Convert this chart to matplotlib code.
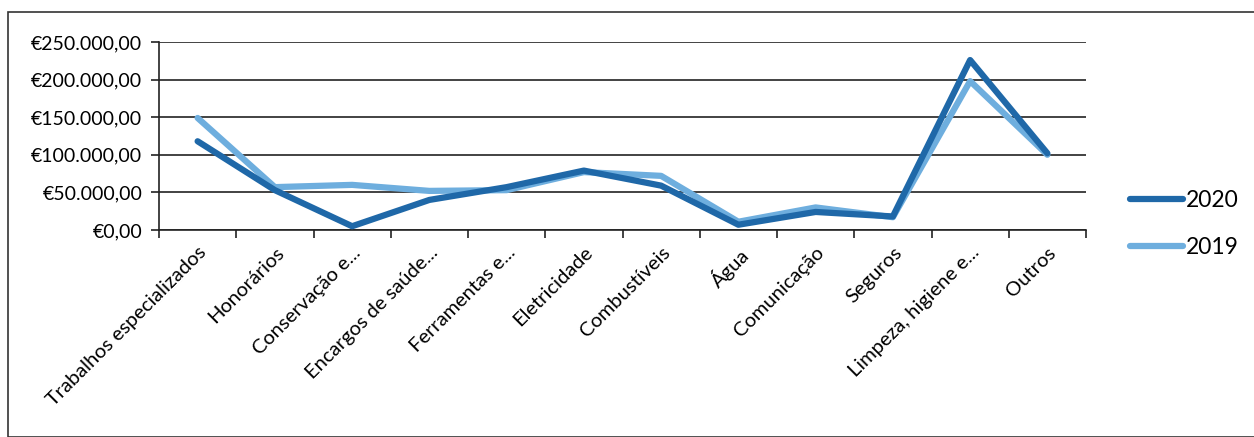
import matplotlib
matplotlib.use("Agg")
import numpy as np
from matplotlib import pyplot as plt
from matplotlib.patches import Rectangle
from matplotlib.ticker import FuncFormatter, FixedLocator

# Data
categories = ["Trabalhos especializados", "Honorários", "Conservação e...",
              "Encargos de saúde...", "Ferramentas e...", "Eletricidade",
              "Combustíveis", "Água", "Comunicação", "Seguros",
              "Limpeza, higiene e...", "Outros"]
v2020 = [118000, 53000, 5000, 40000, 57000, 79000, 59000, 7000, 24000, 18000, 226000, 102000]
v2019 = [149000, 57000, 60000, 52000, 53000, 77000, 72000, 11000, 30000, 17000, 198000, 100000]

DARK = "#1f68a8"
LIGHT = "#6eaede"

plt.rcParams['font.family'] = ['Lato', 'DejaVu Sans']

fig = plt.figure(figsize=(12.54, 4.37), dpi=100)
ax = fig.add_axes([159/1254, 1-230/437, (1086-159)/1254, (230-42)/437])

x = np.arange(len(categories))
ax.plot(x, v2020, color=DARK, lw=4.5, label="2020", solid_capstyle="round", zorder=3)
ax.plot(x, v2019, color=LIGHT, lw=4.5, label="2019", solid_capstyle="round", zorder=2)

ax.set_xlim(-0.5, len(categories) - 0.5)
ax.set_ylim(0, 250000)
ax.set_yticks(np.arange(0, 250001, 50000))

def euro(v, pos):
    s = "{:,.2f}".format(v).replace(",", "X").replace(".", ",").replace("X", ".")
    return "€" + s
ax.yaxis.set_major_formatter(FuncFormatter(euro))
ax.yaxis.grid(True, color="#222222", lw=1.2)
ax.set_axisbelow(True)

# category ticks between the points, labels at the points
ax.xaxis.set_major_locator(FixedLocator(np.arange(-0.5, len(categories), 1.0)))
ax.xaxis.set_major_formatter(FuncFormatter(lambda v, p: ""))
ax.set_xticks(x, minor=True)
ax.set_xticklabels(categories, minor=True, rotation=45, ha="right",
                   rotation_mode="anchor", fontsize=14.5)
ax.tick_params(axis="x", which="minor", length=0, pad=10)
ax.tick_params(axis="x", which="major", length=6, width=1.2, color="#222222")
ax.tick_params(axis="y", length=6, width=1.2, color="#222222", labelsize=14, pad=6)

for side in ["top", "right"]:
    ax.spines[side].set_visible(False)
ax.spines["left"].set_color("#222222")
ax.spines["bottom"].set_color("#222222")
ax.spines["left"].set_linewidth(1.2)
ax.spines["bottom"].set_linewidth(1.2)

leg = fig.legend(loc="upper left", bbox_to_anchor=(1109/1254, 1-169/437),
                 frameon=False, fontsize=16.5, handlelength=2.35, handletextpad=0.12,
                 labelspacing=1.15)

# outer frame like the original chart box
fig.patches.append(Rectangle((8/1254, 0), 1.2, 1-12/437, transform=fig.transFigure,
                             fill=False, edgecolor="#333333", lw=1.2))

fig.savefig("out.png", dpi=100)
